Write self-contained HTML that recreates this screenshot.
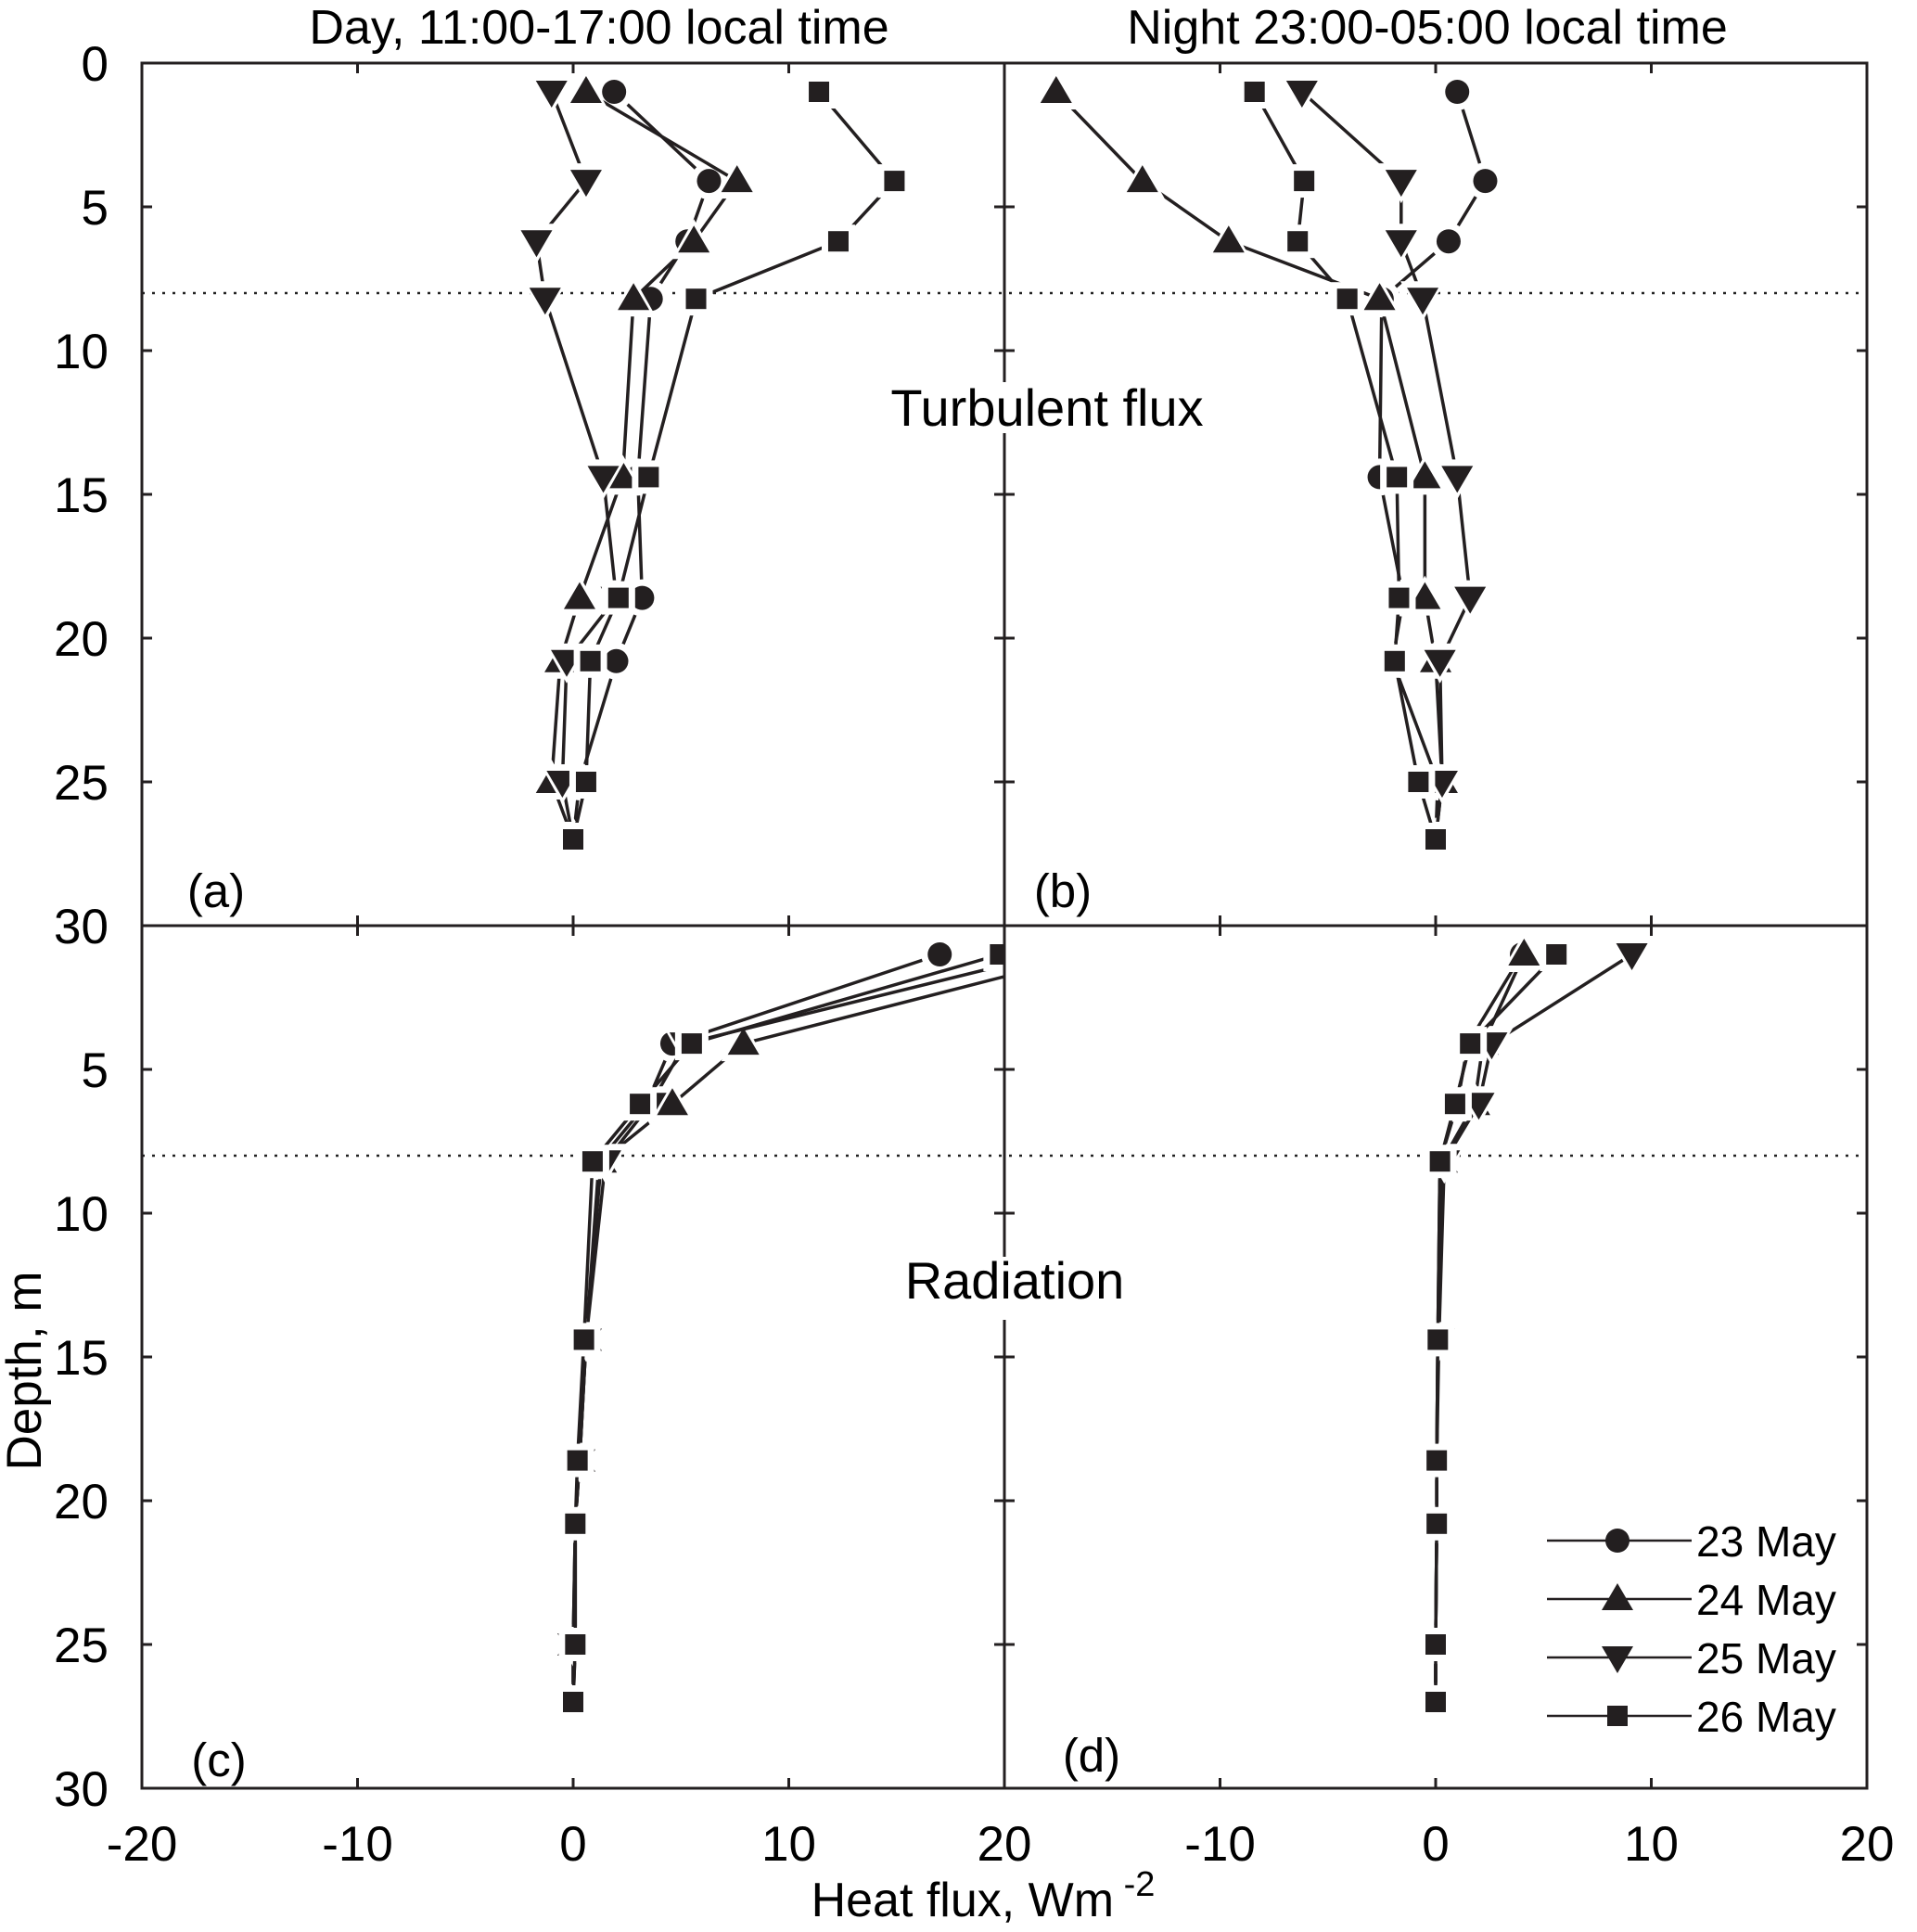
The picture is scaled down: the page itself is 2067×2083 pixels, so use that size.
<!DOCTYPE html>
<html><head><meta charset="utf-8"><style>
html,body{margin:0;padding:0;background:#fff}
svg{display:block;font-family:"Liberation Sans",Arial,sans-serif}
</style></head><body>
<svg id="chart" width="2067" height="2083" viewBox="0 0 2067 2083" xmlns="http://www.w3.org/2000/svg">
<g id="content"></g>
</svg>
<script>
const depths = [1, 4.1, 6.2, 8.2, 14.4, 18.6, 20.8, 25, 27];
const seriesNames = ["23 May", "24 May", "25 May", "26 May"];
const markerShapes = ["circle", "up", "down", "square"];
// panel (a) day turbulent
const a23 = [1.9, 6.3, 5.3, 3.6, 3.0, 3.2, 2.0, 0.3, 0];
const a24 = [0.6, 7.6, 5.6, 2.8, 2.3, 0.3, -0.6, -1.0, 0];
const a25 = [-1.0, 0.6, -1.7, -1.3, 1.4, 2.0, -0.3, -0.5, 0];
const a26 = [11.4, 14.9, 12.3, 5.7, 3.5, 2.1, 0.8, 0.6, 0];
// panel (b) night turbulent
const b23 = [1.0, 2.3, 0.6, -2.5, -2.6, -1.5, -2.0, 0.1, 0];
const b24 = [-17.6, -13.6, -9.6, -2.6, -0.5, -0.5, 0.0, 0.3, 0];
const b25 = [-6.2, -1.6, -1.6, -0.6, 1.0, 1.6, 0.2, 0.3, 0];
const b26 = [-8.4, -6.1, -6.4, -4.1, -1.8, -1.7, -1.9, -0.8, 0];
// panel (c) day radiation
const c23 = [17.0, 4.6, 3.4, 1.2, 0.6, 0.3, 0.1, 0.1, 0];
const c24 = [24.0, 7.9, 4.6, 1.3, 0.6, 0.3, 0.1, 0.0, 0];
const c25 = [22.0, 5.2, 3.6, 1.5, 0.6, 0.3, 0.1, 0.0, 0];
const c26 = [19.8, 5.5, 3.1, 0.9, 0.5, 0.2, 0.1, 0.1, 0];
// panel (d) night radiation
const d23 = [4.0, 1.5, 1.0, 0.2, 0.1, 0.05, 0.05, 0, 0];
const d24 = [4.1, 2.2, 1.8, 0.3, 0.1, 0.05, 0.05, 0, 0];
const d25 = [9.1, 2.6, 2.0, 0.4, 0.15, 0.05, 0.05, 0, 0];
const d26 = [5.6, 1.6, 0.9, 0.2, 0.1, 0.05, 0.05, 0, 0];
const xTicks = [-20, -10, 0, 10, 20];
const yTicks = [0, 5, 10, 15, 20, 25, 30];

const NS = "http://www.w3.org/2000/svg";
const root = document.getElementById("content");
const L = 153, M = 1083, R = 2013, T = 68, MY = 998, B = 1928;
const PW = 930, PH = 930;
function mk(tag, attrs, parent){const e=document.createElementNS(NS,tag);for(const k in attrs)e.setAttribute(k,attrs[k]);(parent||root).appendChild(e);return e;}
function xs(x0){return v => x0 + (v + 20) / 40 * PW;}
function ys(y0){return d => y0 + d / 30 * PH;}

const defs = mk("defs", {});
[[L,T],[M,T],[L,MY],[M,MY]].forEach((p,i)=>{
  const cp = mk("clipPath",{id:"clip"+i},defs);
  mk("rect",{x:p[0],y:p[1],width:PW,height:PH},cp);
});

[T, MY].forEach((y0,i)=>{
  const yy = ys(y0)(8);
  const ln = mk("line",{x1:L,x2:R,y1:yy,y2:yy,stroke:"#222","stroke-width":2.5,"stroke-dasharray":"3 8"});
  
  
});

function marker(g, shape, cx, cy, halo){
  const fill = halo ? "#fff" : "#231f20";
  const extra = halo ? 7 : 0;
  let e;
  if(shape==="circle") e = mk("circle",{cx:cx,cy:cy,r:13+extra,fill:fill},g);
  else if(shape==="square"){const s=11+extra; e = mk("rect",{x:cx-s,y:cy-s,width:2*s,height:2*s,fill:fill},g);}
  else if(shape==="up"){const w=17+extra,h1=17+extra,h2=12+extra; e = mk("polygon",{points:`${cx-w},${cy+h2} ${cx+w},${cy+h2} ${cx},${cy-h1}`,fill:fill},g);}
  else {const w=17+extra,h1=17+extra,h2=12+extra; e = mk("polygon",{points:`${cx-w},${cy-h2} ${cx+w},${cy-h2} ${cx},${cy+h1}`,fill:fill},g);}
  return e;
}

const panels = [
  {name:"a", x0:L, y0:T, data:[a23,a24,a25,a26]},
  {name:"b", x0:M, y0:T, data:[b23,b24,b25,b26]},
  {name:"c", x0:L, y0:MY, data:[c23,c24,c25,c26]},
  {name:"d", x0:M, y0:MY, data:[d23,d24,d25,d26]}
];
panels.forEach((p,pi)=>{
  const X = xs(p.x0), Y = ys(p.y0);
  const g = mk("g",{"clip-path":`url(#clip${pi})`});
  
  
  p.data.forEach((vals,si)=>{
    const sg = mk("g",{},g);
    
    
    const pts = vals.map((v,i)=>X(v)+","+Y(depths[i])).join(" ");
    const pl = mk("polyline",{points:pts,fill:"none",stroke:"#231f20","stroke-width":3.5},sg);
    
    
    vals.forEach((v,i)=>{ marker(sg, markerShapes[si], X(v), Y(depths[i]), true); });
    vals.forEach((v,i)=>{
      const m = marker(sg, markerShapes[si], X(v), Y(depths[i]), false);
      
      
    });
  });
});

mk("rect",{x:955,y:405,width:350,height:70,fill:"#fff"});
mk("rect",{x:965,y:1350,width:260,height:70,fill:"#fff"});

[[L,T],[M,T],[L,MY],[M,MY]].forEach((p,i)=>{
  const r = mk("rect",{x:p[0],y:p[1],width:PW,height:PH,fill:"none",stroke:"#231f20","stroke-width":3});
  
  
});
mk("rect",{x:1078,y:412,width:10,height:55,fill:"#fff"});
mk("rect",{x:1078,y:1355,width:10,height:68,fill:"#fff"});

[L, M].forEach((x0,pi)=>{
  const X = xs(x0);
  xTicks.forEach(t=>{
    [T, MY, B].forEach(yy=>{
      const dir = yy===B ? -1 : 1;
      mk("line",{x1:X(t),x2:X(t),y1:yy,y2:yy+dir*11,stroke:"#231f20","stroke-width":3});
      if(yy===MY) mk("line",{x1:X(t),x2:X(t),y1:yy,y2:yy-11,stroke:"#231f20","stroke-width":3});
    });
    if(pi===1 && t===-20) return;
    const tx = mk("text",{x:X(t),y:B+78,"font-size":53,"text-anchor":"middle",fill:"#000"});
    tx.textContent = t;
    
    
  });
});
[T, MY].forEach(y0=>{
  const Y = ys(y0);
  yTicks.forEach(t=>{
    mk("line",{x1:L,x2:L+11,y1:Y(t),y2:Y(t),stroke:"#231f20","stroke-width":3});
    mk("line",{x1:M-11,x2:M+11,y1:Y(t),y2:Y(t),stroke:"#231f20","stroke-width":3});
    mk("line",{x1:R-11,x2:R,y1:Y(t),y2:Y(t),stroke:"#231f20","stroke-width":3});
    if(y0===MY && t===0) return;
    const tx = mk("text",{x:117,y:Y(t)+19,"font-size":53,"text-anchor":"end",fill:"#000"});
    tx.textContent = t;
    
    
  });
});

function text(str, attrs, name){const t=mk("text",Object.assign({fill:"#000"},attrs));t.textContent=str;return t;}
text("Day, 11:00-17:00 local time",{x:646,y:47,"font-size":52,"text-anchor":"middle"},"title-day");
text("Night 23:00-05:00 local time",{x:1539,y:47,"font-size":52,"text-anchor":"middle"},"title-night");
text("Turbulent flux",{x:1129,y:459,"font-size":56,"text-anchor":"middle"},"label-turbulent-flux");
text("Radiation",{x:1094,y:1400,"font-size":56,"text-anchor":"middle"},"label-radiation");
text("(a)",{x:233,y:978,"font-size":51,"text-anchor":"middle"},"panel-label-a");
text("(b)",{x:1146,y:978,"font-size":51,"text-anchor":"middle"},"panel-label-b");
text("(c)",{x:236,y:1915,"font-size":51,"text-anchor":"middle"},"panel-label-c");
text("(d)",{x:1177,y:1910,"font-size":51,"text-anchor":"middle"},"panel-label-d");
text("Depth, m",{x:0,y:0,"font-size":53,"text-anchor":"middle",transform:"translate(44,1478) rotate(-90)"},"y-axis-title");
const xt = text("Heat flux, Wm",{x:1060,y:2066,"font-size":52,"text-anchor":"middle"},"x-axis-title");
const sup = mk("tspan",{dy:-22,"font-size":38},xt); sup.textContent=" -2";

const lg = mk("g",{});


seriesNames.forEach((n,i)=>{
  const y = 1661 + i*63;
  const e = mk("g",{},lg);
  
  
  mk("line",{x1:1668,x2:1824,y1:y,y2:y,stroke:"#231f20","stroke-width":2.5},e);
  marker(e, markerShapes[i], 1744, y, false);
  const t = mk("text",{x:1829,y:y+17,"font-size":46,fill:"#000"},e); t.textContent=n;
});
</script>
</body></html>
